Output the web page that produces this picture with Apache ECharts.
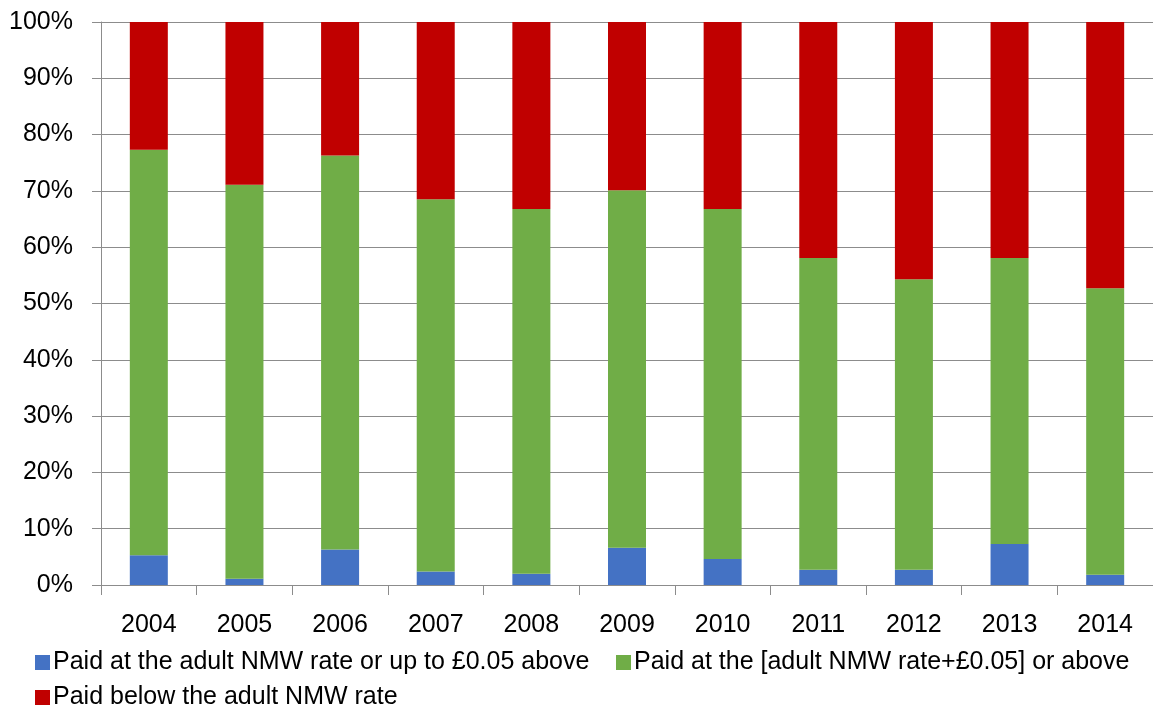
<!DOCTYPE html>
<html>
<head>
<meta charset="utf-8">
<script src="https://cdn.jsdelivr.net/npm/echarts@6/dist/echarts.min.js"></script>
<style>
  html, body { margin: 0; padding: 0; background: #fff; }
  #chart { width: 1153px; height: 709px; }
</style>
</head>
<body>
<div id="chart"></div>
<script>
// categories and values (percent of group)
const years = ['2004', '2005', '2006', '2007', '2008', '2009', '2010', '2011', '2012', '2013', '2014'];
const atRate = [5.3, 1.1, 6.3, 2.4, 2.0, 6.6, 4.6, 2.7, 2.7, 7.3, 1.8];
const aboveRate = [72.0, 70.0, 70.0, 66.1, 64.8, 63.5, 62.2, 55.4, 51.6, 50.8, 50.9];
const belowRate = [22.7, 28.9, 23.7, 31.5, 33.2, 29.9, 33.2, 41.9, 45.7, 41.9, 47.3];

const nameBlue = 'Paid at the adult NMW rate or up to £0.05 above';
const nameGreen = 'Paid at the [adult NMW rate+£0.05] or above';
const nameRed = 'Paid below the adult NMW rate';

const font = '"Liberation Sans", Arial, sans-serif';
const gridColor = '#8c8c8c';

const myChart = echarts.init(document.getElementById('chart'));

const legendBase = {
  orient: 'horizontal',
  icon: 'rect',
  itemWidth: 15,
  itemHeight: 15,
  itemGap: 6,
  textStyle: { fontFamily: font, fontSize: 25, color: '#000', padding: [0, 0, 0, -2] }
};

myChart.setOption({
  animation: false,
  textStyle: { fontFamily: font },
  // plot runs a little past the right edge, as in the original
  grid: { left: 101, top: 22, width: 1058, height: 563 },
  legend: [
    Object.assign({}, legendBase, { left: 30, top: 645, data: [nameBlue] }),
    Object.assign({}, legendBase, { left: 611, top: 645, data: [nameGreen] }),
    Object.assign({}, legendBase, { left: 30, top: 680, data: [nameRed] })
  ],
  xAxis: {
    type: 'category',
    data: years,
    axisLine: { lineStyle: { color: gridColor, width: 1 } },
    axisTick: { show: true, length: 10, lineStyle: { color: gridColor } },
    axisLabel: { color: '#000', fontSize: 25, margin: 28, fontFamily: font }
  },
  yAxis: {
    type: 'value',
    min: 0,
    max: 100,
    interval: 10,
    axisLine: { show: true, lineStyle: { color: gridColor, width: 1 } },
    axisTick: { show: true, length: 9, lineStyle: { color: gridColor } },
    axisLabel: { color: '#000', fontSize: 25, margin: 28, fontFamily: font, formatter: '{value}%' },
    splitLine: { lineStyle: { color: gridColor, width: 1 } }
  },
  series: [
    {
      name: nameBlue,
      type: 'bar',
      stack: 'total',
      barWidth: 38,
      itemStyle: { color: '#4472c4' },
      data: atRate
    },
    {
      name: nameGreen,
      type: 'bar',
      stack: 'total',
      barWidth: 38,
      itemStyle: { color: '#70ad47' },
      data: aboveRate
    },
    {
      name: nameRed,
      type: 'bar',
      stack: 'total',
      barWidth: 38,
      itemStyle: { color: '#c00000' },
      data: belowRate
    }
  ]
});

window.addEventListener('resize', () => {
  myChart.resize();
});
</script>
</body>
</html>
